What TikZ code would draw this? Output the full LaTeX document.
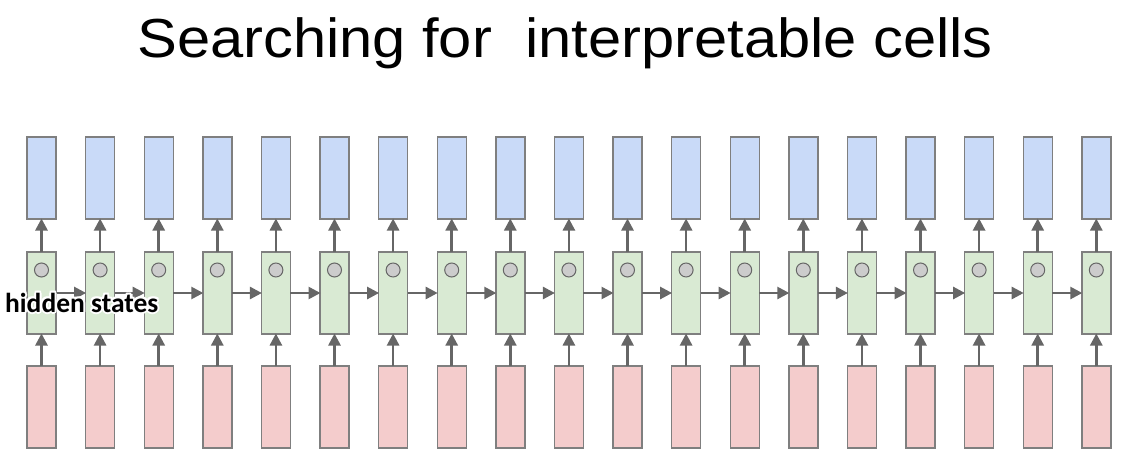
\documentclass[tikz,border=0pt]{standalone}
\usepackage{fontspec}
\setmainfont{Liberation Sans}
\newfontfamily\labelfont{Carlito}
\usetikzlibrary{arrows.meta}
\definecolor{bluefill}{HTML}{C9DAF8}
\definecolor{greenfill}{HTML}{D9EAD3}
\definecolor{redfill}{HTML}{F4CCCC}
\definecolor{boxline}{HTML}{7F7F7F}
\definecolor{arrowgray}{HTML}{666666}
\definecolor{dotfill}{HTML}{CCCCCC}
\newcommand\halooff[3]{\makebox[0pt][l]{\kern#1\raisebox{#2}{\color{white}#3}}}
\newcommand\halotxt[1]{%
  \halooff{-2pt}{0pt}{#1}\halooff{2pt}{0pt}{#1}%
  \halooff{0pt}{2pt}{#1}\halooff{0pt}{-2pt}{#1}%
  \halooff{-1.5pt}{1.5pt}{#1}\halooff{1.5pt}{1.5pt}{#1}%
  \halooff{-1.5pt}{-1.5pt}{#1}\halooff{1.5pt}{-1.5pt}{#1}%
  #1}
\tikzset{
  cellbox/.style={draw=boxline, line width=1.4pt, minimum width=29pt, minimum height=82pt, inner sep=0pt, outer sep=0pt},
  outbox/.style={cellbox, fill=bluefill},
  hidbox/.style={cellbox, fill=greenfill},
  inbox/.style={cellbox, fill=redfill},
  dot/.style={circle, draw=arrowgray, line width=1pt, fill=dotfill, minimum size=14pt, inner sep=0pt},
  flow/.style={draw=arrowgray, line width=2.6pt, -{Triangle[length=12pt,width=12pt]}, shorten >=-0.5pt},
}
\begin{document}
\begin{tikzpicture}[x=1pt,y=-1pt]
\useasboundingbox (0,0) rectangle (1148,469);
\node[anchor=base west, inner sep=0pt, font=\fontsize{55}{64}\selectfont] (title) at (137,57) {\scalebox{1.085}[1]{Searching for\ \ interpretable cells}};
\foreach \i in {1,...,19} {
  \pgfmathsetmacro{\cx}{41.5+58.6*(\i-1)}
  \node[outbox] (b\i) at (\cx,178) {};
  \node[hidbox] (g\i) at (\cx,293) {};
  \node[inbox] (r\i) at (\cx,407) {};
  \node[dot] (c\i) at (\cx,270) {};
  \draw[flow] (r\i.north) -- (g\i.south);
  \draw[flow] (g\i.north) -- (b\i.south);
}
\foreach \i [evaluate=\i as \j using int(\i+1)] in {1,...,18} {
  \draw[flow] (g\i.east) -- (g\j.west);
}
\node[anchor=base west, inner sep=0pt, font=\labelfont\bfseries\fontsize{27.5}{32}\selectfont] (hs) at (5,312) {\halotxt{hidden states}};
\end{tikzpicture}
\end{document}
